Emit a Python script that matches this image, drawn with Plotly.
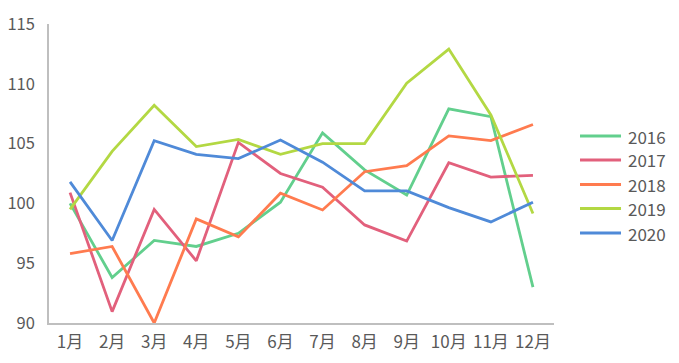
import plotly.graph_objects as go

months = ["1月", "2月", "3月", "4月", "5月", "6月", "7月", "8月", "9月", "10月", "11月", "12月"]
y2016 = [100.0, 93.8, 96.9, 96.4, 97.5, 100.1, 105.9, 102.8, 100.7, 107.9, 107.25, 93.0]
y2017 = [100.9, 90.95, 99.5, 95.2, 105.1, 102.5, 101.35, 98.2, 96.85, 103.4, 102.2, 102.35]
y2018 = [95.8, 96.4, 90.0, 98.7, 97.2, 100.85, 99.45, 102.65, 103.15, 105.65, 105.25, 106.6]
y2019 = [99.5, 104.35, 108.2, 104.75, 105.35, 104.1, 105.0, 105.0, 110.05, 112.9, 107.4, 99.15]
y2020 = [101.8, 96.9, 105.25, 104.1, 103.75, 105.3, 103.45, 101.05, 101.05, 99.65, 98.45, 100.1]

series_names = ["2016", "2017", "2018", "2019", "2020"]
series_values = [y2016, y2017, y2018, y2019, y2020]
colors = ["#62cf8d", "#e2607c", "#ff7b4f", "#b3d843", "#4f8ad8"]
y_ticks = [90, 95, 100, 105, 110, 115]

font_family = "Noto Sans CJK SC, Microsoft YaHei, sans-serif"
text_color = "#595959"

fig = go.Figure()
for name, vals, col in zip(series_names, series_values, colors):
    fig.add_trace(go.Scatter(x=months, y=vals, name=name, mode="lines",
                             line=dict(color=col, width=2.8)))

# custom legend (long line samples like the reference)
legend_y = [0.6254, 0.5452, 0.4632, 0.3829, 0.3010]
for name, col, ly in zip(series_names, colors, legend_y):
    fig.add_shape(type="line", xref="paper", yref="paper",
                  x0=1.0515, x1=1.1327, y0=ly, y1=ly,
                  line=dict(color=col, width=3))
    fig.add_annotation(xref="paper", yref="paper", x=1.1426, y=ly,
                       xanchor="left", yanchor="middle", text=name, showarrow=False,
                       font=dict(size=17, color=text_color, family=font_family))

# page body has an 8px margin; size the figure to fit the 679x363 window
fig.update_layout(
    width=663, height=347,
    margin=dict(l=41, r=117, t=16, b=32, autoexpand=False),
    paper_bgcolor="white", plot_bgcolor="white",
    font=dict(family=font_family, color=text_color, size=17),
    showlegend=False,
    xaxis=dict(type="category", range=[-0.5, 11.5], showgrid=False,
               showline=True, linecolor="#bfbfbf", linewidth=1.5,
               ticks="", tickfont=dict(size=17, color=text_color), ticklabelstandoff=3,
               zeroline=False, automargin=False),
    yaxis=dict(range=[90, 115], tickvals=y_ticks, showgrid=False,
               showline=True, linecolor="#bfbfbf", linewidth=1.5,
               ticks="", tickfont=dict(size=16.5, color=text_color),
               ticklabelstandoff=9, zeroline=False, automargin=False),
)

fig.write_html("out.html")
